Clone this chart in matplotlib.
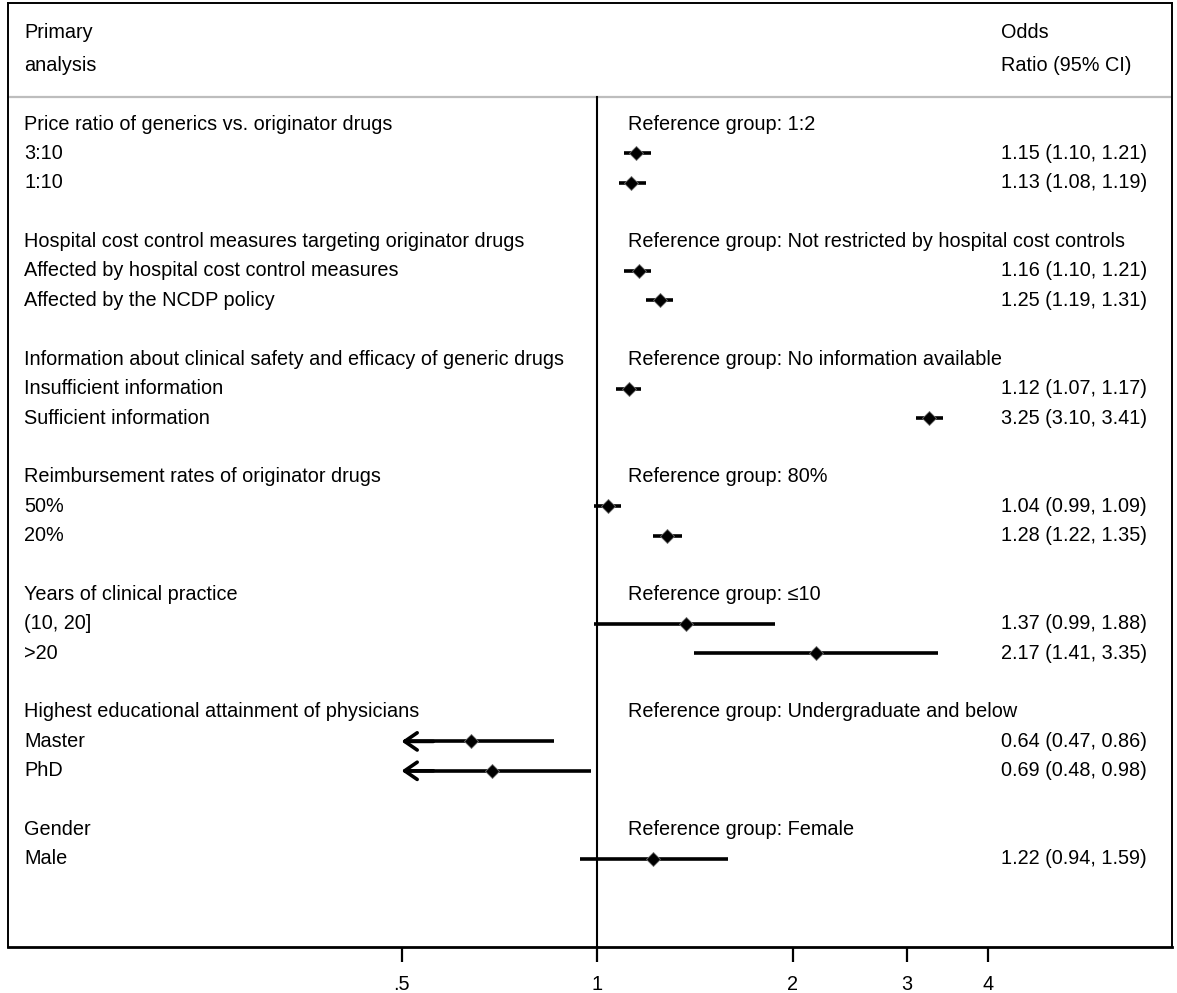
import numpy as np
import matplotlib
matplotlib.use("Agg")
import matplotlib.pyplot as plt

plt.rcParams['font.family'] = ['Liberation Sans', 'DejaVu Sans']

# ---- data ----
groups = [
    "Price ratio of generics vs. originator drugs",
    "Hospital cost control measures targeting originator drugs",
    "Information about clinical safety and efficacy of generic drugs",
    "Reimbursement rates of originator drugs",
    "Years of clinical practice",
    "Highest educational attainment of physicians",
    "Gender",
]
ref_groups = [
    "Reference group: 1:2",
    "Reference group: Not restricted by hospital cost controls",
    "Reference group: No information available",
    "Reference group: 80%",
    "Reference group: \u226410",
    "Reference group: Undergraduate and below",
    "Reference group: Female",
]
levels = [
    ["3:10", "1:10"],
    ["Affected by hospital cost control measures", "Affected by the NCDP policy"],
    ["Insufficient information", "Sufficient information"],
    ["50%", "20%"],
    ["(10, 20]", ">20"],
    ["Master", "PhD"],
    ["Male"],
]
odds = [
    [1.15, 1.13],
    [1.16, 1.25],
    [1.12, 3.25],
    [1.04, 1.28],
    [1.37, 2.17],
    [0.64, 0.69],
    [1.22],
]
lower = [
    [1.10, 1.08],
    [1.10, 1.19],
    [1.07, 3.10],
    [0.99, 1.22],
    [0.99, 1.41],
    [0.47, 0.48],
    [0.94],
]
upper = [
    [1.21, 1.19],
    [1.21, 1.31],
    [1.17, 3.41],
    [1.09, 1.35],
    [1.88, 3.35],
    [0.86, 0.98],
    [1.59],
]
xticks = [0.5, 1, 2, 3, 4]
xticklabels = [".5", "1", "2", "3", "4"]
clip_low = 0.5

# ---- figure ----
W, H = 1177, 993
fig = plt.figure(figsize=(W / 100, H / 100), dpi=100)
L, R, T, B = 8, 1172, 3, 947
ax = fig.add_axes([L / W, 1 - B / H, (R - L) / W, (B - T) / H])
ax.set_xscale('log', base=2)
x0 = 597; ppd = 195.5
ax.set_xlim(2 ** ((L - x0) / ppd), 2 ** ((R - x0) / ppd))
y0 = 124; dy = 29.4
ax.set_ylim((B - y0) / dy, (T - y0) / dy)

for s in ['top', 'left', 'right']:
    ax.spines[s].set_linewidth(1.4)
ax.spines['bottom'].set_linewidth(2.0)
ax.set_yticks([])
fs = 14.3
ax.set_xticks(xticks)
ax.set_xticklabels(xticklabels, fontsize=fs)
ax.xaxis.set_minor_locator(matplotlib.ticker.NullLocator())
ax.tick_params(axis='x', direction='out', length=11, width=1.6, pad=9)

trans = matplotlib.transforms.blended_transform_factory(fig.transFigure, ax.transData)
def fx(px):
    return px / W

xl, xr, xv = 24, 628, 1001
# header
ax.text(fx(xl), -3.1, "Primary", transform=trans, fontsize=fs, va='center')
ax.text(fx(xl), -2.0, "analysis", transform=trans, fontsize=fs, va='center')
ax.text(fx(xv), -3.1, "Odds", transform=trans, fontsize=fs, va='center')
ax.text(fx(xv), -2.0, "Ratio (95% CI)", transform=trans, fontsize=fs, va='center')
sep = (97 - y0) / dy
ax.axhline(sep, color='#bdbdbd', lw=1.6, zorder=1)
ax.plot([1, 1], [sep, (B - y0) / dy], color='black', lw=1.5, zorder=2)

row = 0
for g in range(len(groups)):
    ax.text(fx(xl), row, groups[g], transform=trans, fontsize=fs, va='center')
    ax.text(fx(xr), row, ref_groups[g], transform=trans, fontsize=fs, va='center')
    row += 1
    for k in range(len(levels[g])):
        ax.text(fx(xl), row, levels[g][k], transform=trans, fontsize=fs, va='center')
        ax.text(fx(xv), row,
                f"{odds[g][k]:.2f} ({lower[g][k]:.2f}, {upper[g][k]:.2f})",
                transform=trans, fontsize=fs, va='center')
        lo, hi, est = lower[g][k], upper[g][k], odds[g][k]
        if lo < clip_low:
            ax.plot([clip_low * 1.01, hi], [row, row], color='black', lw=2.6,
                    solid_capstyle='butt', zorder=3)
            ax.annotate("", xy=(clip_low, row), xytext=(clip_low * 1.12, row),
                        arrowprops=dict(arrowstyle='->,head_length=0.9,head_width=0.62',
                                        color='black', lw=2.6, shrinkA=0, shrinkB=0),
                        zorder=3)
        else:
            ax.plot([lo, hi], [row, row], color='black', lw=2.6,
                    solid_capstyle='butt', zorder=3)
        ax.plot([est], [row], marker='D', ms=7, color='black',
                markeredgecolor='#707070', markeredgewidth=0.6, zorder=4)
        row += 1
    row += 1

fig.savefig("out.png", dpi=100)
